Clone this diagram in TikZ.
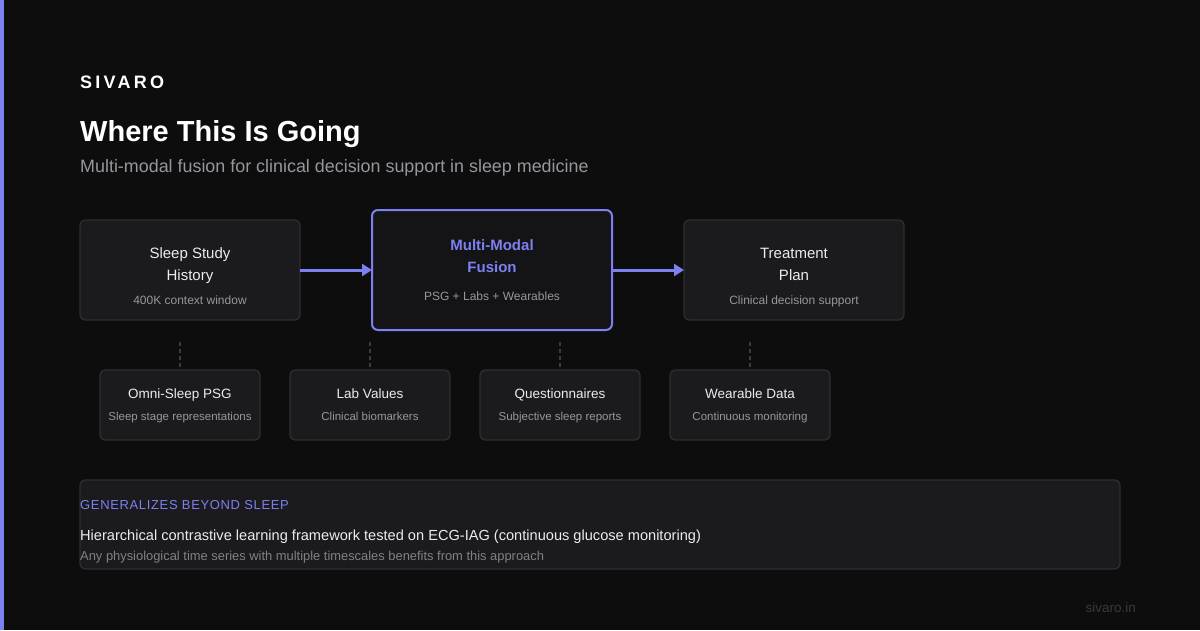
\documentclass[tikz,border=0pt]{standalone}
\usepackage{fontspec}
\setmainfont{Liberation Sans}
\newfontfamily\spacedfont[LetterSpace=18]{Liberation Sans}
\newfontfamily\capsfont[LetterSpace=5]{Liberation Sans}
\usetikzlibrary{arrows.meta}
\definecolor{bg}{RGB}{13,13,13}
\definecolor{accent}{RGB}{124,128,240}
\definecolor{boxfill}{RGB}{27,27,30}
\definecolor{boxline}{RGB}{46,46,50}
\definecolor{fusefill}{RGB}{20,20,23}
\definecolor{txtmain}{RGB}{236,236,238}
\definecolor{txtgray}{RGB}{150,150,158}
\definecolor{txtdim}{RGB}{128,128,136}
\definecolor{dashcol}{RGB}{60,60,64}
\definecolor{footcol}{RGB}{58,58,62}
\tikzset{
  card/.style={draw=boxline, fill=boxfill, line width=1.3pt, rounded corners=5pt},
  fusecard/.style={draw=accent, fill=fusefill, line width=2pt, rounded corners=6pt},
  lbl/.style={inner sep=0pt, anchor=base, text=txtmain},
  sublbl/.style={inner sep=0pt, anchor=base, text=txtgray},
  flow/.style={draw=accent, line width=3pt, -{Triangle[length=10pt,width=12pt]}},
  link/.style={draw=dashcol, line width=1.3pt, dash pattern=on 4pt off 3pt},
}
\begin{document}
\begin{tikzpicture}[x=1pt,y=-1pt]
\fill[bg] (0,0) rectangle (1200,630);
\useasboundingbox (0,0) rectangle (1200,630);
\fill[accent] (0,0) rectangle (4,630);

% header
\node[inner sep=0pt, anchor=base west, text=white] (brand) at (80,88) {\fontsize{18}{20}\spacedfont\bfseries SIVARO};
\node[inner sep=0pt, anchor=base west, text=white] (title) at (80,141) {\fontsize{29}{34}\selectfont\bfseries Where This Is Going};
\node[inner sep=0pt, anchor=base west, text=txtgray] (subtitle) at (80,172) {\fontsize{17.9}{20}\selectfont Multi-modal fusion for clinical decision support in sleep medicine};

% main cards
\path[card] (80,220) rectangle (300,320);
\coordinate (hR) at (300,270);
\node[lbl] (h1) at (190,258) {\fontsize{15}{18}\selectfont Sleep Study};
\node[lbl] (h2) at (190,280) {\fontsize{15}{18}\selectfont History};
\node[sublbl] (h3) at (190,304) {\fontsize{12}{14}\selectfont 400K context window};

\path[fusecard] (372,210) rectangle (612,330);
\coordinate (fL) at (372,270);
\coordinate (fR) at (612,270);
\node[lbl, text=accent] (f1) at (492,250) {\fontsize{15}{18}\selectfont\bfseries Multi-Modal};
\node[lbl, text=accent] (f2) at (492,272) {\fontsize{15}{18}\selectfont\bfseries Fusion};
\node[sublbl] (f3) at (492,300) {\fontsize{12}{14}\selectfont PSG + Labs + Wearables};

\path[card] (684,220) rectangle (904,320);
\coordinate (tL) at (684,270);
\node[lbl] (t1) at (794,258) {\fontsize{15}{18}\selectfont Treatment};
\node[lbl] (t2) at (794,280) {\fontsize{15}{18}\selectfont Plan};
\node[sublbl] (t3) at (794,304) {\fontsize{12}{14}\selectfont Clinical decision support};

\draw[flow] (hR) -- (fL);
\draw[flow] (fR) -- (tL);

% input cards
\foreach \cx/\name/\ttl/\sub in {180/a/Omni-Sleep PSG/Sleep stage representations,
                                 370/b/Lab Values/Clinical biomarkers,
                                 560/c/Questionnaires/Subjective sleep reports,
                                 750/d/Wearable Data/Continuous monitoring}{
  \path[card] (\cx-80,370) rectangle (\cx+80,440);
  \coordinate (\name top) at (\cx,370);
  \coordinate (\name up) at (\cx,342);
  \node[lbl] (\name t) at (\cx,398) {\fontsize{13.5}{16}\selectfont \ttl};
  \node[sublbl] (\name s) at (\cx,420) {\fontsize{11.5}{14}\selectfont \sub};
  \draw[link] (\name up) -- (\name top);
}

% bottom panel
\path[card] (80,480) rectangle (1120,569);
\node[inner sep=0pt, anchor=base west, text=accent] (g1) at (80,509.5) {\fontsize{13}{15}\capsfont GENERALIZES BEYOND SLEEP};
\node[inner sep=0pt, anchor=base west, text=txtmain] (g2) at (80,540.5) {\fontsize{14.6}{17}\selectfont Hierarchical contrastive learning framework tested on ECG-IAG (continuous glucose monitoring)};
\node[inner sep=0pt, anchor=base west, text=txtdim] (g3) at (80,560) {\fontsize{12.9}{14}\selectfont Any physiological time series with multiple timescales benefits from this approach};

\node[inner sep=0pt, anchor=base east, text=footcol] (foot) at (1136,612) {\fontsize{13.5}{16}\selectfont sivaro.in};
\end{tikzpicture}
\end{document}
